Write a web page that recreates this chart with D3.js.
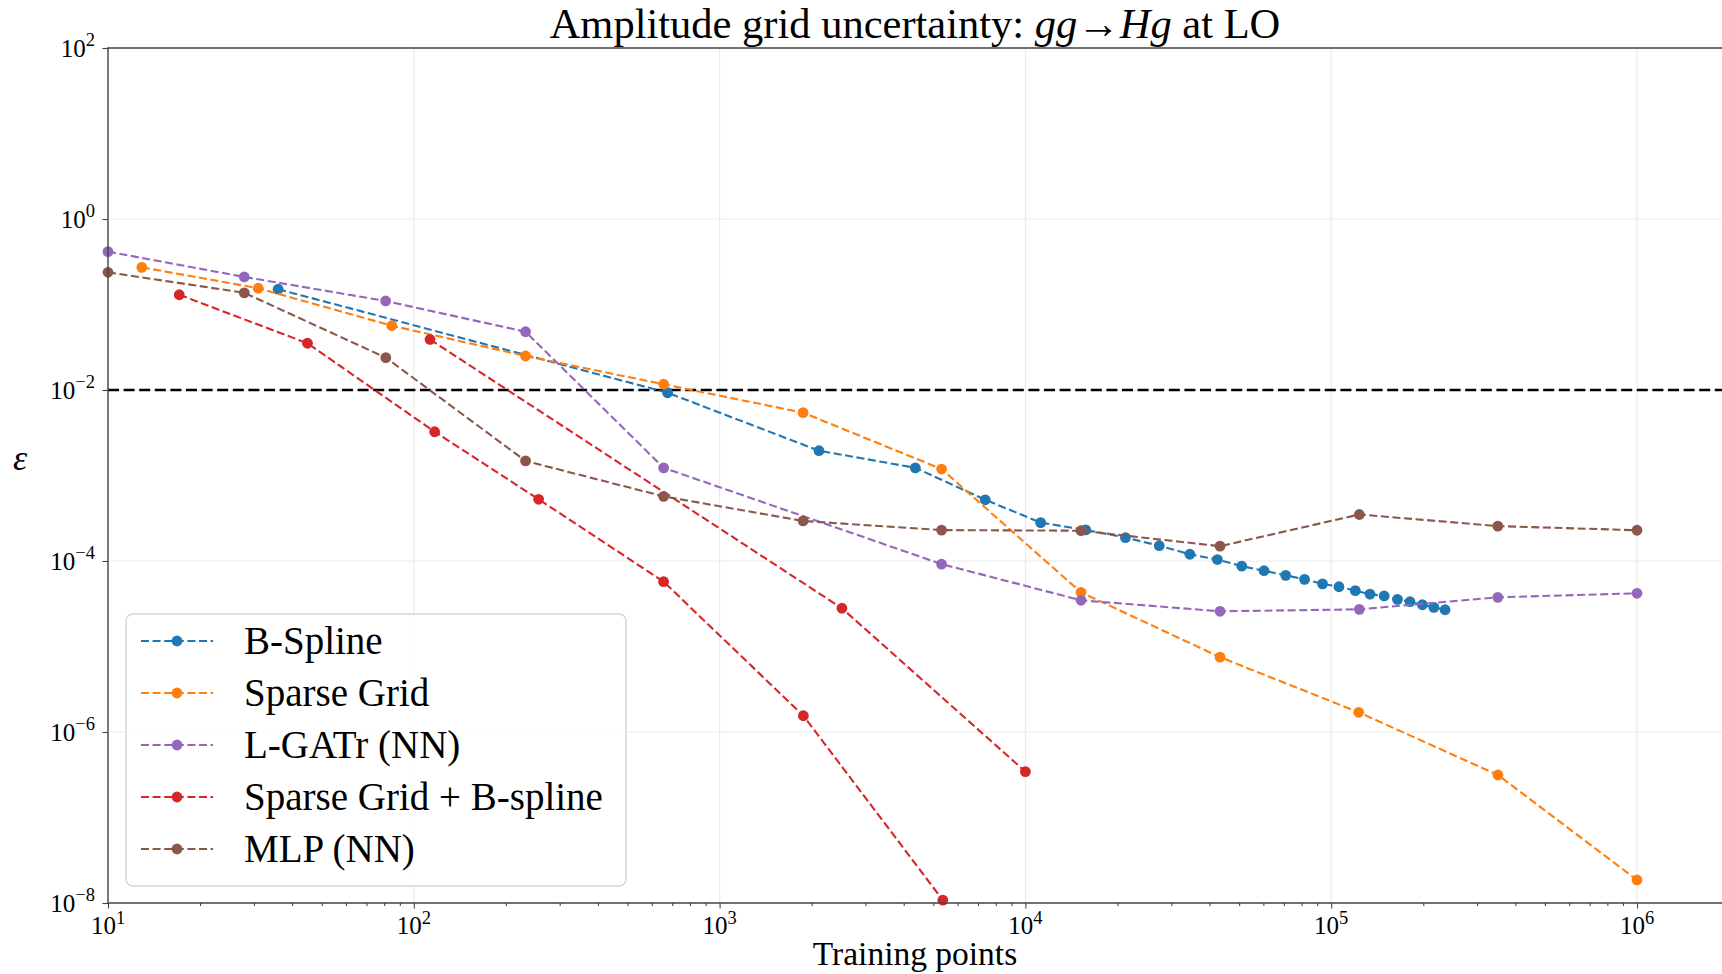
<!DOCTYPE html>
<html>
<head>
<meta charset="utf-8">
<script src="https://cdn.jsdelivr.net/npm/d3@7"></script>
<style>
  html, body { margin: 0; padding: 0; background: #fff; }
  svg { display: block; }
  text { font-family: "Liberation Serif", "Times New Roman", serif; fill: #000; }
</style>
</head>
<body>
<svg id="chart" width="1722" height="974"></svg>
<script>
// ---------------- data ----------------
const seriesNames = ["B-Spline", "Sparse Grid", "L-GATr (NN)", "Sparse Grid + B-spline", "MLP (NN)"];
const seriesColors = ["#1f77b4", "#ff7f0e", "#9467bd", "#d62728", "#8c564b"];

const bsplineX = [36, 676, 2113, 4365, 7392, 11220, 15750, 21240, 27400, 34500, 42440, 51000, 60300, 71000, 81800, 93700, 106000, 119900, 133900, 149000, 164700, 181000, 198700, 216600, 235700];
const bsplineY = [0.151, 0.00929, 0.00195, 0.00123, 5.2e-4, 2.81e-4, 2.31e-4, 1.88e-4, 1.51e-4, 1.20e-4, 1.04e-4, 8.7e-5, 7.7e-5, 6.8e-5, 6.1e-5, 5.4e-5, 5.0e-5, 4.5e-5, 4.1e-5, 3.9e-5, 3.56e-5, 3.34e-5, 3.08e-5, 2.87e-5, 2.69e-5];

const sparseX = [12.9, 31, 84.7, 232, 656, 1875, 5320, 15200, 43300, 123000, 351000, 1000000];
const sparseY = [0.272, 0.155, 0.0565, 0.025, 0.01167, 0.00543, 0.00119, 4.3e-5, 7.5e-6, 1.70e-6, 3.14e-7, 1.86e-8];

const lgatrX = [10, 27.9, 80.9, 232, 656, 5320, 15200, 43300, 123600, 350600, 1000000];
const lgatrY = [0.415, 0.21, 0.11, 0.048, 0.00123, 9.2e-5, 3.47e-5, 2.58e-5, 2.72e-5, 3.76e-5, 4.19e-5];

const sgbsX = [17.1, 44.9, 117, 256, 656, 1879, 5370];
const sgbsY = [0.130, 0.0352, 0.00325, 5.27e-4, 5.73e-5, 1.55e-6, 1.08e-8];

const sgbs2X = [113, 2512, 10000];
const sgbs2Y = [0.039, 2.8e-5, 3.44e-7];

const mlpX = [10, 27.9, 81, 232, 656, 1875, 5320, 15200, 43300, 123600, 350600, 1000000];
const mlpY = [0.238, 0.137, 0.0239, 0.00148, 5.7e-4, 2.94e-4, 2.3e-4, 2.26e-4, 1.49e-4, 3.5e-4, 2.56e-4, 2.29e-4];

const thresholdY = 1e-2;

const xTickValues = [1e1, 1e2, 1e3, 1e4, 1e5, 1e6];
const xTickExps = ["1", "2", "3", "4", "5", "6"];
const yTickValues = [1e2, 1e0, 1e-2, 1e-4, 1e-6, 1e-8];
const yTickExps = ["2", "0", "\u22122", "\u22124", "\u22126", "\u22128"];

const titleText = ["Amplitude grid uncertainty: ", {it: "gg"}, "\u2192", {it: "H"}, {it: "g"}, " at LO"];
const xLabel = "Training points";
const yLabel = "\u03b5";

// ---------------- layout ----------------
const W = 1722, H = 974;
const pL = 108, pR = 1637, pT = 48, pB = 903;
const svg = d3.select("#chart");

const x = d3.scaleLog().domain([10, 1e6]).range([pL, pR]);
const y = d3.scaleLog().domain([1e-8, 1e2]).range([pB, pT]);

// grid
const grid = svg.append("g");
grid.selectAll("line.gx").data(xTickValues).enter().append("line")
  .attr("x1", d => x(d)).attr("x2", d => x(d)).attr("y1", pT).attr("y2", pB)
  .attr("stroke", "#ebebeb").attr("stroke-width", 1.2);
grid.selectAll("line.gy").data(yTickValues).enter().append("line")
  .attr("x1", pL).attr("x2", W + 10).attr("y1", d => y(d)).attr("y2", d => y(d))
  .attr("stroke", "#ebebeb").attr("stroke-width", 1.2);

// threshold
svg.append("line")
  .attr("x1", pL).attr("x2", W + 10).attr("y1", y(thresholdY)).attr("y2", y(thresholdY))
  .attr("stroke", "#000").attr("stroke-width", 2.4).attr("stroke-dasharray", "11,4.6");

// series
const series = [
  {name: seriesNames[0], color: seriesColors[0], xs: bsplineX, ys: bsplineY},
  {name: seriesNames[1], color: seriesColors[1], xs: sparseX, ys: sparseY},
  {name: seriesNames[2], color: seriesColors[2], xs: lgatrX, ys: lgatrY},
  {name: seriesNames[3], color: seriesColors[3], xs: sgbsX, ys: sgbsY},
  {name: null, color: seriesColors[3], xs: sgbs2X, ys: sgbs2Y},
  {name: seriesNames[4], color: seriesColors[4], xs: mlpX, ys: mlpY}
];
const line = d3.line().x(d => x(d[0])).y(d => y(d[1]));
const plot = svg.append("g");
series.forEach(s => {
  const pts = s.xs.map((v, i) => [v, s.ys[i]]);
  const g = plot.append("g");
  g.append("path").attr("d", line(pts)).attr("fill", "none")
    .attr("stroke", s.color).attr("stroke-width", 2.1).attr("stroke-dasharray", "8,3.6");
  g.selectAll("circle").data(pts).enter().append("circle")
    .attr("cx", d => x(d[0])).attr("cy", d => y(d[1])).attr("r", 5.4).attr("fill", s.color);
});

// spines
const spine = svg.append("g").attr("stroke", "#444").attr("stroke-width", 1.4);
spine.append("line").attr("x1", pL).attr("x2", pL).attr("y1", pT - 0.7).attr("y2", pB + 0.7);
spine.append("line").attr("x1", pL).attr("x2", W + 10).attr("y1", pT).attr("y2", pT);
spine.append("line").attr("x1", pL).attr("x2", W + 10).attr("y1", pB).attr("y2", pB);

// x axis ticks
const xAxisMajor = d3.axisBottom(x).tickValues(xTickValues).tickSize(5.5).tickFormat("");
const minorVals = [];
[10, 100, 1000, 10000, 100000, 1000000].forEach(b => { for (let k = 2; k <= 9; k++) minorVals.push(b * k); });
const xAxisMinor = d3.axisBottom(x).tickValues(minorVals.filter(v => x(v) < W)).tickSize(3).tickFormat("");
[xAxisMajor, xAxisMinor].forEach(ax => {
  const g = svg.append("g").attr("transform", `translate(0,${pB})`).call(ax);
  g.select(".domain").remove();
  g.selectAll(".tick line").attr("stroke", "#444").attr("stroke-width", 1.1);
});
const xl = svg.append("g");
xTickValues.forEach((v, i) => {
  const t = xl.append("text").attr("x", x(v)).attr("y", 934).attr("text-anchor", "middle")
    .attr("font-size", 25);
  t.append("tspan").text("10");
  t.append("tspan").attr("dy", -10.5).attr("font-size", 18.5).text(xTickExps[i]);
});

// y axis ticks
const yAxis = d3.axisLeft(y).tickValues(yTickValues).tickSize(5.5).tickFormat("");
const gy = svg.append("g").attr("transform", `translate(${pL},0)`).call(yAxis);
gy.select(".domain").remove();
gy.selectAll(".tick line").attr("stroke", "#444").attr("stroke-width", 1.1);
yTickValues.forEach((v, i) => {
  const t = svg.append("text").attr("x", 95).attr("y", y(v) + 8.7).attr("text-anchor", "end")
    .attr("font-size", 25);
  t.append("tspan").text("10");
  t.append("tspan").attr("dy", -10.5).attr("font-size", 18.5).text(yTickExps[i]);
});

// title
const title = svg.append("text").attr("x", (pL + W) / 2).attr("y", 38)
  .attr("text-anchor", "middle").attr("font-size", 42.5);
titleText.forEach(p => {
  if (typeof p === "string") title.append("tspan").text(p);
  else title.append("tspan").attr("font-style", "italic").text(p.it);
});

// axis labels
svg.append("text").attr("x", (pL + W) / 2).attr("y", 965).attr("text-anchor", "middle")
  .attr("font-size", 33.5).text(xLabel);
svg.append("text").attr("x", 20).attr("y", 470).attr("text-anchor", "middle")
  .attr("font-size", 36).attr("font-style", "italic").text(yLabel);

// legend
const legend = svg.append("g");
legend.append("rect").attr("x", 126).attr("y", 614).attr("width", 500).attr("height", 272)
  .attr("rx", 7).attr("fill", "#fff").attr("fill-opacity", 0.85)
  .attr("stroke", "#d5d5d5").attr("stroke-width", 1.4);
const legendItems = series.filter(s => s.name);
legendItems.forEach((s, i) => {
  const cy = 641 + i * 52;
  legend.append("line").attr("x1", 141).attr("x2", 213).attr("y1", cy).attr("y2", cy)
    .attr("stroke", s.color).attr("stroke-width", 2.1).attr("stroke-dasharray", "8,3.6");
  legend.append("circle").attr("cx", 177).attr("cy", cy).attr("r", 5.4).attr("fill", s.color);
  legend.append("text").attr("x", 244).attr("y", cy + 12.5).attr("font-size", 39).text(s.name);
});
</script>
</body>
</html>
